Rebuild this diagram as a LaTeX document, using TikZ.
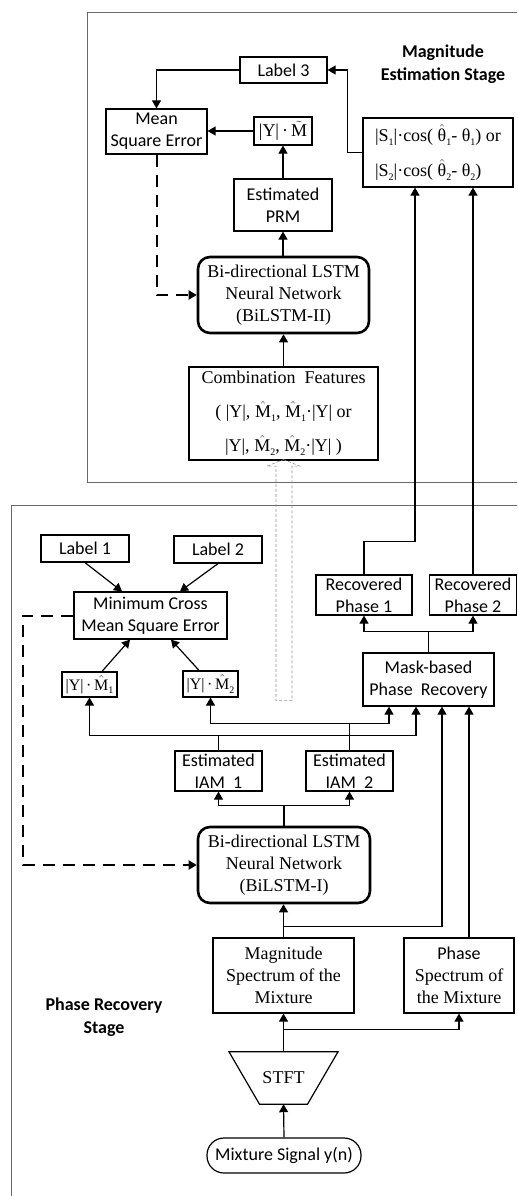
\documentclass[tikz,border=0pt]{standalone}
\usepackage{fontspec}
\setmainfont{Liberation Serif}
\newfontfamily\calfont{Carlito}
\usetikzlibrary{arrows.meta}
% small lowered index digits in the serif formulas
\newcommand\lsub[1]{\raisebox{-0.45ex}{\fontsize{10}{10}\selectfont #1}}
\newcommand\Mh[1]{$\hat{\mbox{M}}$\lsub{#1}}
\newcommand\Th[1]{$\hat{\mbox{θ}}$\lsub{#1}}
\definecolor{framegray}{RGB}{105,105,105}
\definecolor{hollowgray}{RGB}{150,150,150}
\tikzset{
  cbox/.style={draw, line width=1.2pt, inner sep=0pt, align=center,
    font=\calfont\fontsize{18}{22}\selectfont},
  tbox/.style={draw, line width=1.2pt, inner sep=0pt, align=center,
    font=\rmfamily\fontsize{18}{22}\selectfont},
  lstm/.style={tbox, line width=2.6pt, rounded corners=12pt},
  arr/.style={line width=1.2pt, -{Triangle[length=8pt,width=9pt]}},
  dasharr/.style={line width=2pt, dash pattern=on 12pt off 8pt,
    -{Triangle[length=8pt,width=9pt]}},
  plain/.style={line width=1.2pt},
  stagelabel/.style={align=center, font=\calfont\bfseries\fontsize{18}{23}\selectfont},
  frame/.style={draw=framegray, line width=1pt}
}
\begin{document}
\begin{tikzpicture}[x=1pt, y=-1pt]
\useasboundingbox (0,0) rectangle (517,1196);
\clip (0,0) rectangle (517,1196);

% stage frames
\draw[frame] (87.7,12.7) rectangle (540,482.7);
\draw[frame] (11.7,505) rectangle (540,1230);

\node[stagelabel] (magstage) at (443,64.5) {Magnitude\\Estimation Stage};
\node[stagelabel] (phstage) at (104,1017) {Phase Recovery\\Stage};

% ---------- magnitude estimation stage ----------
\node[cbox, minimum width=87pt, minimum height=26pt] (label3) at (283.5,70) {Label 3};
\node[cbox, minimum width=101pt, minimum height=45pt] (mse) at (156.5,131.5) {Mean\\Square Error};
\node[tbox, minimum width=58pt, minimum height=28pt] (ym) at (283,131) {|Y|\,·\,$\tilde{\mbox{M}}$};
\node[cbox, minimum width=98pt, minimum height=52pt] (prm) at (283,205) {Estimated\\PRM};
\node[lstm, minimum width=171pt, minimum height=76pt] (bil2) at (283.5,295)
  {Bi-directional LSTM\\Neural Network\\(BiLSTM-II)};
\node[tbox, minimum width=150pt, minimum height=69pt, align=left,
  font=\rmfamily\fontsize{18}{35}\selectfont] (cosb) at (438,152.5)
  {|S\lsub{1}|·cos( \Th{1}- θ\lsub{1}) or\\|S\lsub{2}|·cos( \Th{2}- θ\lsub{2})};
\node[tbox, minimum width=189pt, minimum height=93pt,
  font=\rmfamily\fontsize{18}{34}\selectfont] (comb) at (283.5,413.5)
  {Combination\ \ Features\\( |Y|, \Mh{1}, \Mh{1}·|Y| or\\|Y|, \Mh{2}, \Mh{2}·|Y| )};

\draw[arr] (label3.west) -| (mse.north);
\draw[arr] (cosb.west) -- ++(-15,0) |- (label3.east);
\draw[arr] (ym.west) -- (ym.west -| mse.east);
\draw[arr] (prm.north) -- (prm.north |- ym.south);
\draw[arr] (bil2.north -| prm.north) -- (prm.south);
\draw[arr] (comb.north) -- (comb.north |- bil2.south);
\draw[dasharr] (mse.south) |- (bil2.west);

% hollow feature-transfer arrow
\draw[hollowgray, line width=0.6pt, dash pattern=on 3pt off 2pt]
  ([yshift=1]comb.south) -- ++(16.5,6.5) -- ++(-8,0) -- ++(0,234.5)
  -- ++(-16,0) -- ++(0,-234.5) -- ++(-9,0) -- cycle;

% ---------- phase recovery stage ----------
\node[cbox, minimum width=88pt, minimum height=27pt] (label1) at (85,548.5) {Label 1};
\node[cbox, minimum width=88pt, minimum height=27pt] (label2) at (218,549.5) {Label 2};
\node[cbox, minimum width=96pt, minimum height=40pt] (rp1) at (364,595) {Recovered\\Phase 1};
\node[cbox, minimum width=87pt, minimum height=40pt] (rp2) at (473,595) {Recovered\\Phase 2};
\node[cbox, minimum width=153pt, minimum height=47pt] (mcmse) at (150.5,615.5) {Minimum Cross\\Mean Square Error};
\node[tbox, minimum width=55pt, minimum height=25pt, font=\rmfamily\fontsize{16}{20}\selectfont]
  (ym1) at (89.5,684.5) {|Y|\,·\,\Mh{1}};
\node[tbox, minimum width=55pt, minimum height=26pt, font=\rmfamily\fontsize{16}{20}\selectfont]
  (ym2) at (210.5,684) {|Y|\,·\,\Mh{2}};
\node[cbox, minimum width=131pt, minimum height=53pt] (mask) at (428.5,679.5) {Mask-based\\Phase\ \ Recovery};
\node[cbox, minimum width=87pt, minimum height=40pt] (iam1) at (218.5,771) {Estimated\\IAM\ \ 1};
\node[cbox, minimum width=87pt, minimum height=40pt] (iam2) at (349.5,771) {Estimated\\IAM\ \ 2};
\node[lstm, minimum width=172pt, minimum height=76pt] (bil1) at (284,865)
  {Bi-directional LSTM\\Neural Network\\(BiLSTM-I)};
\node[tbox, minimum width=141pt, minimum height=75pt] (mag) at (283.5,975.5)
  {Magnitude\\Spectrum of the\\Mixture};
\node[tbox, minimum width=110pt, minimum height=75pt] (phs) at (459,975.5)
  {{\calfont Phase}\\Spectrum of\\the Mixture};
\node[inner sep=0pt, minimum width=48pt, minimum height=52pt,
  font=\rmfamily\fontsize{18}{22}\selectfont] (stft) at (283.5,1078) {STFT};
\draw[line width=1.2pt] ([xshift=-54.5]stft.north) -- ([xshift=54.5]stft.north)
  -- ([xshift=24]stft.south) -- ([xshift=-24]stft.south) -- cycle;
\node[cbox, minimum width=154pt, minimum height=35pt, rounded corners=17pt] (mix) at (284,1155.5)
  {Mixture Signal y(n)};

% labels into the loss
\draw[arr] (label1.south) -- ([xshift=-28.5]mcmse.north);
\draw[arr] (label2.south) -- ([xshift=29.5]mcmse.north);
\draw[arr] ([xshift=12.5]ym1.north) -- ([xshift=-20.5]mcmse.south);
\draw[arr] ([xshift=-11.5]ym2.north) -- ([xshift=20.5]mcmse.south);
\draw[dasharr] (mcmse.west) -- ++(-50.5,0) |- (bil1.west);

% recovered phases up to the magnitude stage
\draw[plain] (mask.north) -- ++(0,-21) coordinate (mj);
\draw[arr] (mj) -| (rp1.south);
\draw[arr] (mj) -| (rp2.south);
\draw[arr] (rp1.north) -- ++(0,-33) -| ([xshift=-23]cosb.south);
\draw[arr] (rp2.north) -- (rp2.north |- cosb.south);

% estimated masks
\draw[plain] (iam1.north) -- ++(0,-15) coordinate (i1);
\draw[arr] (i1) -| (ym1.south);
\draw[arr] (i1) -| ([xshift=-12.5]mask.south);
\draw[plain] (iam2.north) -- ++(0,-27) coordinate (i2);
\draw[arr] (i2) -| (ym2.south);
\draw[arr] (i2) -| ([xshift=-39.5]mask.south);

% network outputs
\draw[plain] (bil1.north) -- ++(0,-20) coordinate (b1);
\draw[arr] (b1) -| (iam1.south);
\draw[arr] (b1) -| (iam2.south);

% spectra
\draw[arr] (mag.north) -- (mag.north |- bil1.south);
\draw[arr] (mag.north) ++(0,-11) -| ([xshift=13.5]mask.south);
\draw[arr] ([xshift=10]phs.north) -- ([xshift=10]phs.north |- mask.south);
\draw[arr] (stft.north) -- (mag.south);
\draw[arr] (stft.north) ++(0,-22) -| (phs.south);
\draw[arr] (mix.north) -- (stft.south);
\end{tikzpicture}
\end{document}
